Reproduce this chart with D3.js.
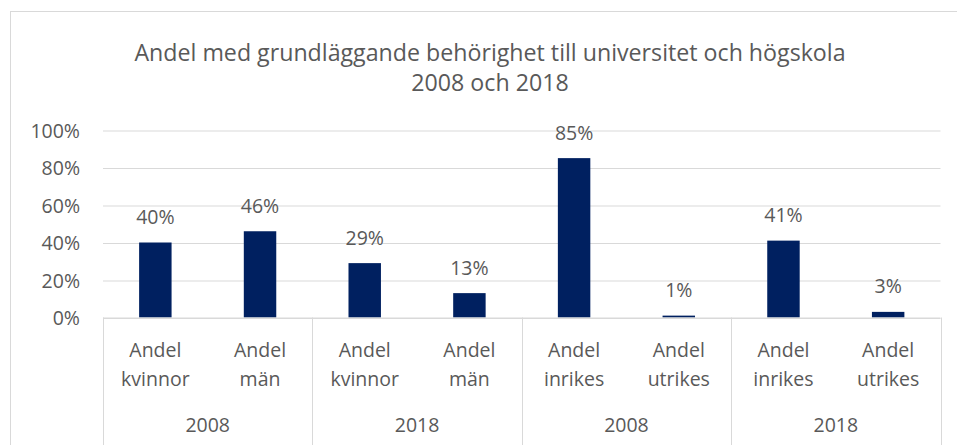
<!DOCTYPE html>
<html>
<head>
<meta charset="utf-8">
<script src="https://cdn.jsdelivr.net/npm/d3@7/dist/d3.min.js"></script>
<style>
  html, body { margin: 0; padding: 0; background: #fff; }
  svg { display: block; }
  text { font-family: "Open Sans", Lato, sans-serif; fill: #595959; }
</style>
</head>
<body>
<svg id="chart" width="957" height="445"></svg>
<script>
// Category labels (two lines each), group years and values
const categoryLine1 = ["Andel", "Andel", "Andel", "Andel", "Andel", "Andel", "Andel", "Andel"];
const categoryLine2 = ["kvinnor", "män", "kvinnor", "män", "inrikes", "utrikes", "inrikes", "utrikes"];
const groupYears = ["2008", "2018", "2008", "2018"];
const values = [0.40, 0.46, 0.29, 0.13, 0.85, 0.01, 0.41, 0.03];
const yTicks = [0, 0.2, 0.4, 0.6, 0.8, 1.0];
const titleLines = ["Andel med grundläggande behörighet till universitet och högskola", "2008 och 2018"];

const svg = d3.select("#chart");
const W = 957, H = 445;
const plot = { left: 103, right: 940.5, top: 130, bottom: 317.5 };
const gridColor = "#d9d9d9";
const barColor = "#002060";
const labelSize = 19.5;
const fontFamily = "'Open Sans', Lato, sans-serif";

// chart frame
svg.append("rect")
  .attr("x", 10.5).attr("y", 11.5)
  .attr("width", W + 20).attr("height", H + 20)
  .attr("fill", "#fff").attr("stroke", gridColor).attr("stroke-width", 1);

// title
svg.append("g").selectAll("text")
  .data(titleLines).join("text")
  .attr("x", 490).attr("y", (d, i) => 61 + i * 30)
  .attr("text-anchor", "middle")
  .attr("font-size", 23.2)
  .text(d => d);

const idx = d3.range(values.length);
const x = d3.scaleBand().domain(idx).range([plot.left, plot.right])
  .paddingInner(0.69).paddingOuter(0.345);
const y = d3.scaleLinear().domain([0, 1]).range([plot.bottom, plot.top]);

// gridlines
const grid = svg.append("g")
  .attr("transform", `translate(${plot.left},0)`)
  .call(d3.axisLeft(y).tickValues(yTicks).tickSize(-(plot.right - plot.left)).tickFormat(""));
grid.select(".domain").remove();
grid.selectAll("line").attr("stroke", gridColor).attr("stroke-width", 1)
  .attr("transform", "translate(0,0.5)");

// y axis labels
const yAxis = svg.append("g")
  .attr("transform", `translate(80,0)`)
  .call(d3.axisLeft(y).tickValues(yTicks).tickSize(0).tickPadding(0).tickFormat(d3.format(".0%")));
yAxis.select(".domain").remove();
yAxis.selectAll("text").attr("font-size", labelSize).attr("fill", "#595959")
  .attr("font-family", fontFamily).attr("dy", "0.37em");

// bars
svg.append("g").selectAll("rect")
  .data(values).join("rect")
  .attr("x", (d, i) => x(i))
  .attr("y", d => y(d))
  .attr("width", x.bandwidth())
  .attr("height", d => y(0) - y(d))
  .attr("fill", barColor);

// value labels
svg.append("g").selectAll("text")
  .data(values).join("text")
  .attr("x", (d, i) => x(i) + x.bandwidth() / 2)
  .attr("y", d => y(d) - 18.5)
  .attr("text-anchor", "middle")
  .attr("font-size", labelSize)
  .text(d => d3.format(".0%")(d));

// category axis: baseline and group separators
const step = x.step();
const axisG = svg.append("g");
axisG.append("line")
  .attr("x1", plot.left).attr("x2", plot.right)
  .attr("y1", plot.bottom + 0.5).attr("y2", plot.bottom + 0.5)
  .attr("stroke", gridColor);
const sepX = d3.range(groupYears.length + 1).map(g => plot.left + g * 2 * step);
axisG.selectAll("line.sep")
  .data(sepX).join("line").attr("class", "sep")
  .attr("x1", d => Math.round(d) + 0.5).attr("x2", d => Math.round(d) + 0.5)
  .attr("y1", plot.bottom).attr("y2", H)
  .attr("stroke", gridColor);

// category labels
const cat = axisG.append("g").selectAll("text")
  .data(idx).join("text")
  .attr("text-anchor", "middle")
  .attr("font-size", labelSize);
cat.append("tspan")
  .attr("x", i => x(i) + x.bandwidth() / 2).attr("y", 356.5)
  .text(i => categoryLine1[i]);
cat.append("tspan")
  .attr("x", i => x(i) + x.bandwidth() / 2).attr("y", 385.5)
  .text(i => categoryLine2[i]);

// group year labels
axisG.append("g").selectAll("text")
  .data(groupYears).join("text")
  .attr("x", (d, g) => plot.left + (g * 2 + 1) * step)
  .attr("y", 431.5)
  .attr("text-anchor", "middle")
  .attr("font-size", labelSize)
  .text(d => d);
</script>
</body>
</html>
